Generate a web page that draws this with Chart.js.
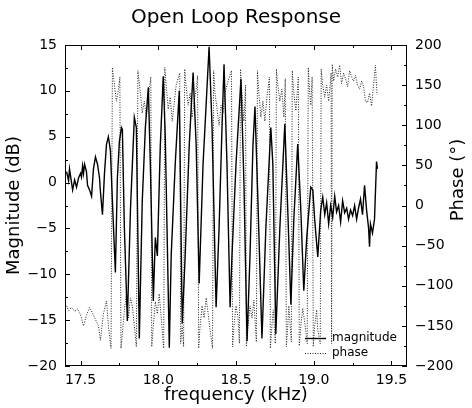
<!DOCTYPE html>
<html>
<head>
<meta charset="utf-8">
<script src="https://cdn.jsdelivr.net/npm/chart.js@4"></script>
<style>
  body { margin: 0; background: #fff; }
  canvas { display: block; }
</style>
</head>
<body>
<canvas id="chart1" width="472" height="408"></canvas>
<script>
        // Magnitude (dB) vs frequency (kHz)
        const freqMag = [
            17.410, 17.423, 17.429, 17.442, 17.449, 17.462, 17.474, 17.487, 17.500, 17.506,
            17.513, 17.519, 17.526, 17.538, 17.545, 17.558, 17.571, 17.583, 17.596, 17.609,
            17.622, 17.628, 17.641, 17.654, 17.667, 17.679, 17.692, 17.705, 17.724, 17.737,
            17.750, 17.763, 17.769, 17.782, 17.801, 17.821, 17.846, 17.859, 17.878, 17.897,
            17.917, 17.936, 17.949, 17.968, 17.981, 17.994, 18.013, 18.032, 18.045, 18.071,
            18.083, 18.109, 18.135, 18.154, 18.173, 18.199, 18.224, 18.244, 18.263, 18.288,
            18.327, 18.346, 18.372, 18.391, 18.410, 18.423, 18.442, 18.462, 18.474, 18.500,
            18.532, 18.551, 18.571, 18.590, 18.609, 18.622, 18.641, 18.667, 18.692, 18.724,
            18.737, 18.756, 18.782, 18.814, 18.833, 18.853, 18.872, 18.897, 18.917, 18.936,
            18.955, 18.981, 18.994, 19.006, 19.026, 19.045, 19.058, 19.071, 19.083, 19.096,
            19.109, 19.122, 19.135, 19.147, 19.160, 19.173, 19.186, 19.199, 19.212, 19.224,
            19.237, 19.250, 19.263, 19.276, 19.288, 19.301, 19.314, 19.327, 19.340, 19.353,
            19.359, 19.365, 19.378, 19.391, 19.404, 19.410
        ];
        const magnitude = [
            1.2, 0.2, 1.5, 0.0, -0.8, 0.3, -0.5, 0.5, 1.0, 0.6,
            1.8, 1.0, 2.0, 1.2, -0.3, -0.8, -1.5, 1.5, 2.8, 2.0,
            0.5, -1.0, -3.5, 1.0, 4.2, 5.0, 3.5, -2.0, -9.8, 0.5,
            4.5, 6.0, 5.8, -5.0, -15.1, -3.0, 7.1, 6.0, -17.0, -2.0,
            6.0, 10.4, 2.0, -12.9, -6.0, -8.0, 4.0, 11.6, 5.0, -18.0,
            -8.0, 2.0, 10.0, -15.4, -8.0, 4.0, 12.0, 4.0, -11.0, 2.0,
            14.8, 6.0, -13.6, -5.0, 6.0, 12.9, 2.0, -13.6, -8.0, 2.0,
            11.3, 0.0, -17.3, -8.0, 4.0, 8.3, -2.0, -17.0, -5.0, 6.0,
            2.0, -16.5, -5.0, 6.4, -3.0, -13.3, -4.0, 4.2, -3.0, -11.8,
            -6.0, -0.5, -0.8, -4.0, -8.1, -3.0, -1.6, -3.5, -2.2, -4.5,
            -2.5, -3.8, -1.5, -3.2, -2.5, -4.3, -2.0, -3.3, -2.8, -4.0,
            -3.0, -3.6, -2.5, -4.0, -2.8, -1.8, -3.5, -0.3, -3.0, -5.0,
            -7.0, -4.5, -5.5, -4.0, 2.3, 1.5
        ];

        // Phase (deg) vs frequency (kHz)
        const freqPhase = [
            17.410, 17.423, 17.442, 17.462, 17.481, 17.500, 17.519, 17.538, 17.558, 17.577,
            17.596, 17.615, 17.628, 17.647, 17.667, 17.679, 17.696, 17.705, 17.718, 17.731,
            17.744, 17.753, 17.760, 17.769, 17.782, 17.795, 17.808, 17.821, 17.833, 17.846,
            17.859, 17.869, 17.885, 17.897, 17.910, 17.923, 17.936, 17.952, 17.958, 17.968,
            17.981, 17.994, 18.006, 18.019, 18.035, 18.042, 18.051, 18.064, 18.077, 18.090,
            18.103, 18.115, 18.138, 18.144, 18.154, 18.163, 18.170, 18.179, 18.192, 18.205,
            18.218, 18.231, 18.244, 18.253, 18.260, 18.269, 18.282, 18.295, 18.308, 18.321,
            18.333, 18.349, 18.356, 18.365, 18.378, 18.391, 18.404, 18.417, 18.429, 18.449,
            18.471, 18.478, 18.487, 18.500, 18.513, 18.522, 18.529, 18.538, 18.551, 18.561,
            18.567, 18.577, 18.590, 18.603, 18.615, 18.631, 18.638, 18.647, 18.660, 18.673,
            18.686, 18.699, 18.715, 18.721, 18.731, 18.740, 18.753, 18.760, 18.769, 18.782,
            18.795, 18.808, 18.817, 18.824, 18.833, 18.840, 18.856, 18.862, 18.872, 18.885,
            18.901, 18.907, 18.917, 18.929, 18.942, 18.958, 18.965, 18.974, 18.981, 18.990,
            18.997, 19.006, 19.019, 19.026, 19.042, 19.048, 19.058, 19.071, 19.083, 19.096,
            19.112, 19.115, 19.119, 19.128, 19.141, 19.154, 19.167, 19.179, 19.192, 19.205,
            19.218, 19.231, 19.244, 19.256, 19.269, 19.282, 19.295, 19.308, 19.321, 19.333,
            19.346, 19.359, 19.372, 19.385, 19.397, 19.407
        ];
        const phase = [
            -125, -131, -127, -132, -129, -136, -150, -137, -127, -134,
            -142, -150, -168, -135, -119, -150, -178, 172, 150, 130,
            145, 160, -178, -160, -130, -110, -140, -115, -125, -150,
            -176, 168, 140, 115, 130, 110, 135, 160, -176, -150,
            -120, -135, -110, -140, -178, 172, 150, 120, 135, 105,
            128, 150, 165, -172, -150, -176, 170, 148, 125, 140,
            110, 130, 145, 162, -178, -150, -125, -140, -115, -135,
            -155, -178, 168, 140, 120, 100, 125, 115, 140, 155,
            168, -176, -150, -125, -140, -172, 170, 140, 105, 150,
            -176, -150, -125, -140, -118, -170, 168, 140, 110, 130,
            105, 135, 160, -178, -150, -130, -172, 170, 150, 130,
            145, 110, 158, -176, -150, -125, -170, 168, 140, 118,
            160, -175, -150, -128, -145, -172, 172, 140, 125, 160,
            -176, -150, -130, -155, -172, 170, 150, 135, 150, 130,
            165, -172, 176, 155, 170, 160, 175, 152, 165, 158,
            148, 168, 160, 155, 162, 150, 145, 155, 148, 130,
            128, 140, 124, 150, 175, 138
        ];

        // Axis ticks
        const xTicks = [17.5, 18.0, 18.5, 19.0, 19.5];
        const xMinorTicks = [17.75, 18.25, 18.75, 19.25];
        const magTicks = [-20, -15, -10, -5, 0, 5, 10, 15];
        const magMinorTicks = [-17.5, -12.5, -7.5, -2.5, 2.5, 7.5, 12.5];
        const phaseTicks = [-200, -150, -100, -50, 0, 50, 100, 150, 200];
        const phaseMinorTicks = [-175, -125, -75, -25, 25, 75, 125, 175];

        const FONT = 'DejaVu Sans';

        function toPoints(xs, ys) {
            return xs.map((x, i) => ({ x: x, y: ys[i] }));
        }

        function minusSign(v) {
            return String(v).replace('-', '\u2212');
        }

        // Box around the plot with inward tick marks, the right title and the small legend
        const frameTicks = {
            id: 'frameTicks',
            afterDraw(chart) {
                const { ctx, chartArea: a, scales } = chart;
                ctx.save();
                ctx.strokeStyle = '#000';
                ctx.lineWidth = 1;
                ctx.strokeRect(a.left + 0.5, a.top + 0.5, a.right - a.left - 1, a.bottom - a.top - 1);

                ctx.beginPath();
                const xt = (vals, len) => vals.forEach(v => {
                    const px = Math.round(scales.x.getPixelForValue(v)) + 0.5;
                    ctx.moveTo(px, a.bottom); ctx.lineTo(px, a.bottom - len);
                    ctx.moveTo(px, a.top); ctx.lineTo(px, a.top + len);
                });
                xt(xTicks, 5); xt(xMinorTicks, 3);
                const yl = (vals, len) => vals.forEach(v => {
                    const py = Math.round(scales.y.getPixelForValue(v)) + 0.5;
                    ctx.moveTo(a.left, py); ctx.lineTo(a.left + len, py);
                });
                yl(magTicks, 5); yl(magMinorTicks, 3);
                const yr = (vals, len) => vals.forEach(v => {
                    const py = Math.round(scales.y2.getPixelForValue(v)) + 0.5;
                    ctx.moveTo(a.right, py); ctx.lineTo(a.right - len, py);
                });
                yr(phaseTicks, 5); yr(phaseMinorTicks, 3);
                ctx.stroke();

                // right axis title, reading bottom to top like the left one
                ctx.fillStyle = '#000';
                ctx.font = '18px "' + FONT + '"';
                ctx.textAlign = 'center';
                ctx.textBaseline = 'middle';
                ctx.save();
                ctx.translate(scales.y2.right - 14, a.top + 135);
                ctx.rotate(-Math.PI / 2);
                ctx.fillText('Phase (\u00B0)', 0, 0);
                ctx.restore();

                // legend
                const lx = a.left + 240, ly = a.bottom - 28;
                ctx.beginPath();
                ctx.moveTo(lx, ly + 0.5); ctx.lineTo(lx + 21, ly + 0.5);
                ctx.lineWidth = 1.4;
                ctx.stroke();
                ctx.beginPath();
                ctx.setLineDash([1, 1.5]);
                ctx.lineWidth = 1;
                ctx.strokeStyle = '#222';
                ctx.moveTo(lx, ly + 15.5); ctx.lineTo(lx + 21, ly + 15.5);
                ctx.stroke();
                ctx.setLineDash([]);
                ctx.font = '12px "' + FONT + '"';
                ctx.textAlign = 'left';
                ctx.fillText('magnitude', lx + 27, ly);
                ctx.fillText('phase', lx + 27, ly + 15);
                ctx.restore();
            }
        };

        const ctx = document.getElementById('chart1').getContext('2d');
        const chart = new Chart(ctx, {
            type: 'line',
            data: {
                datasets: [{
                    label: 'magnitude',
                    data: toPoints(freqMag, magnitude),
                    yAxisID: 'y',
                    borderColor: '#000',
                    borderWidth: 1.4,
                    pointRadius: 0,
                    tension: 0
                }, {
                    label: 'phase',
                    data: toPoints(freqPhase, phase),
                    yAxisID: 'y2',
                    borderColor: '#222',
                    borderWidth: 1,
                    borderDash: [1, 1.5],
                    pointRadius: 0,
                    tension: 0
                }]
            },
            options: {
                responsive: false,
                animation: false,
                layout: { padding: 0 },
                plugins: {
                    legend: { display: false },
                    tooltip: { enabled: false },
                    title: {
                        display: true,
                        text: 'Open Loop Response',
                        color: '#000',
                        font: { family: FONT, size: 20, weight: 'normal' },
                        padding: { top: 6, bottom: 15 }
                    }
                },
                scales: {
                    x: {
                        type: 'linear',
                        min: 17.4,
                        max: 19.6,
                        afterBuildTicks: s => { s.ticks = xTicks.map(v => ({ value: v })); },
                        afterFit: s => { s.height = 42; },
                        grid: { display: false, drawTicks: false },
                        border: { display: false },
                        ticks: {
                            autoSkip: false, maxRotation: 0, padding: 6, color: '#000',
                            font: { family: FONT, size: 14 },
                            callback: v => v.toFixed(1)
                        },
                        title: {
                            display: true, text: 'frequency (kHz)', color: '#000',
                            font: { family: FONT, size: 18 }, padding: { top: 0, bottom: 2 }
                        }
                    },
                    y: {
                        position: 'left',
                        min: -20,
                        max: 15,
                        afterBuildTicks: s => { s.ticks = magTicks.map(v => ({ value: v })); },
                        afterFit: s => { s.width = 65; },
                        grid: { display: false, drawTicks: false },
                        border: { display: false },
                        ticks: {
                            autoSkip: false, padding: 8, color: '#000',
                            font: { family: FONT, size: 14 },
                            callback: v => minusSign(v)
                        },
                        title: {
                            display: true, text: 'Magnitude (dB)', color: '#000',
                            font: { family: FONT, size: 18 }, padding: { top: 4, bottom: 0 }
                        }
                    },
                    y2: {
                        position: 'right',
                        min: -200,
                        max: 200,
                        afterBuildTicks: s => { s.ticks = phaseTicks.map(v => ({ value: v })); },
                        afterFit: s => { s.width = 65; },
                        grid: { display: false, drawTicks: false },
                        border: { display: false },
                        ticks: {
                            autoSkip: false, padding: 8, color: '#000',
                            font: { family: FONT, size: 14 },
                            callback: v => minusSign(v)
                        },
                        title: { display: false }
                    }
                }
            },
            plugins: [frameTicks]
        });
</script>
</body>
</html>
